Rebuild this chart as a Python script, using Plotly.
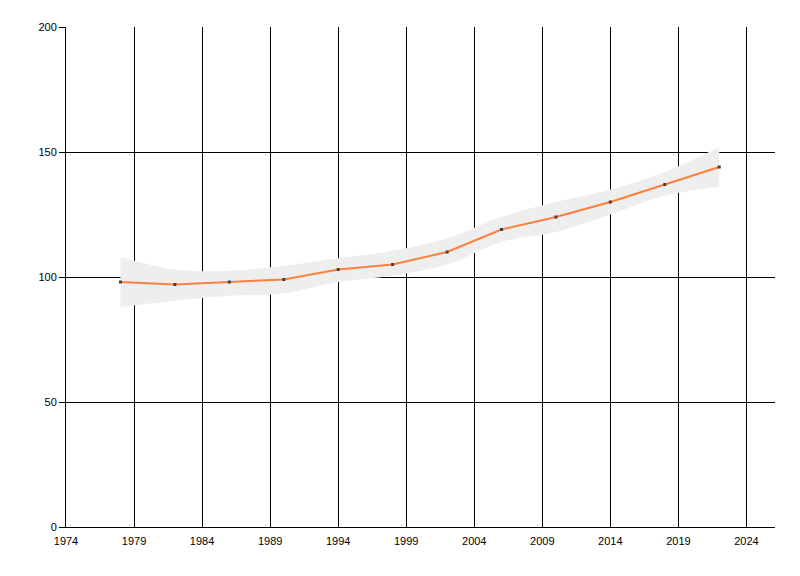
import plotly.graph_objects as go

# values
years = [1978, 1982, 1986, 1990, 1994, 1998, 2002, 2006, 2010, 2014, 2018, 2022]
values = [98, 97, 98, 99, 103, 105, 110, 119, 124, 130, 137, 144]
upper = [108, 103, 102.5, 104.5, 107.5, 110.5, 115.5, 124, 130, 135, 142, 152]
lower = [88, 90.5, 92.5, 93.5, 98, 100.5, 105, 114, 118, 125, 132.5, 136]

x_ticks = list(range(1974, 2025, 5))
y_ticks = [0, 50, 100, 150, 200]

fig = go.Figure()

# confidence band
fig.add_trace(go.Scatter(x=years, y=upper, mode="lines",
                         line=dict(width=0, shape="spline", color="#EEEEEE"),
                         hoverinfo="skip", showlegend=False))
fig.add_trace(go.Scatter(x=years, y=lower, mode="lines", fill="tonexty",
                         fillcolor="#EEEEEE",
                         line=dict(width=0, shape="spline", color="#EEEEEE"),
                         hoverinfo="skip", showlegend=False))

# main series
fig.add_trace(go.Scatter(x=years, y=values, mode="lines+markers",
                         line=dict(color="#FF7F3F", width=2),
                         marker=dict(symbol="square", size=3, color="#404040"),
                         showlegend=False))

# page has an 8px body margin, so margins are shifted to compensate
fig.update_layout(
    width=800, height=576,
    margin=dict(l=58, r=33, t=19, b=57),
    paper_bgcolor="white", plot_bgcolor="white",
    font=dict(family="Liberation Sans, Arial, sans-serif", size=11, color="black"),
)
fig.update_xaxes(range=[1974, 2026.1], tickvals=x_ticks,
                 showgrid=True, gridcolor="black", gridwidth=1,
                 showline=True, linecolor="black", linewidth=1,
                 zeroline=False, ticks="", ticklabelstandoff=4)
fig.update_yaxes(range=[0, 200], tickvals=y_ticks,
                 showgrid=True, gridcolor="black", gridwidth=1,
                 showline=True, linecolor="black", linewidth=1,
                 zeroline=False, ticks="outside", ticklen=6, tickcolor="black")

fig.write_html("out.html")
